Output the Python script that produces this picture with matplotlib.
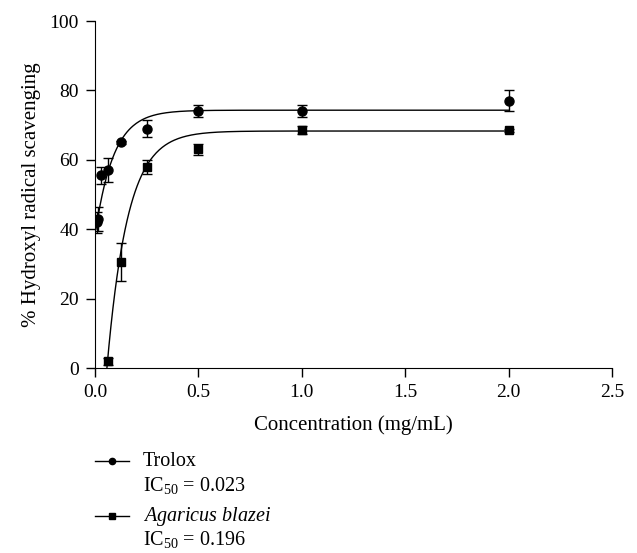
import numpy as np
import matplotlib
matplotlib.use("Agg")
import matplotlib.pyplot as plt
from matplotlib.lines import Line2D

plt.rcParams['font.family'] = ['Liberation Serif', 'DejaVu Serif']
plt.rcParams['mathtext.fontset'] = 'custom'
plt.rcParams['mathtext.rm'] = 'Liberation Serif'
plt.rcParams['mathtext.it'] = 'Liberation Serif:italic'

# Daten
conc_trolox = [0.0078, 0.0156, 0.03125, 0.0625, 0.125, 0.25, 0.5, 1.0, 2.0]
mean_trolox = [42, 43, 55.5, 57, 65, 69, 74, 74, 77]
err_trolox = [3, 3.5, 2.5, 3.5, 0.5, 2.5, 1.8, 1.8, 3]

conc_agaricus = [0.0625, 0.125, 0.25, 0.5, 1.0, 2.0]
mean_agaricus = [2, 30.5, 58, 63, 68.5, 68.5]
err_agaricus = [1, 5.5, 2, 1.5, 1.2, 0.5]

# Parameter der Fitkurven (exponentieller Anstieg)
fit_trolox = dict(y0=38.0, top=74.3, k=11.3, x0=0.0)
fit_agaricus = dict(y0=0.0, top=68.3, k=10.0, x0=0.058)

xticks = [0.0, 0.5, 1.0, 1.5, 2.0, 2.5]
yticks = [0, 20, 40, 60, 80, 100]

legend_names = ["Trolox", "$\\it{Agaricus\\ blazei}$"]
legend_ic50 = ["0.023", "0.196"]
legend_markers = ["o", "s"]


def curve(x, y0, top, k, x0):
    return y0 + (top - y0) * (1 - np.exp(-k * (x - x0)))


fig = plt.figure(figsize=(6.37, 5.53), dpi=100)
ax = fig.add_axes([0.149, 0.3345, 0.812, 0.6275])

xs = np.linspace(0.005, 2.0, 400)
ax.plot(xs, curve(xs, **fit_trolox), color='black', lw=1)
xs2 = np.linspace(fit_agaricus['x0'], 2.0, 400)
ax.plot(xs2, curve(xs2, **fit_agaricus), color='black', lw=1)

ax.errorbar(conc_trolox, mean_trolox, yerr=err_trolox, fmt='o', color='black',
            ms=6.5, capsize=3.5, elinewidth=1, capthick=1)
ax.errorbar(conc_agaricus, mean_agaricus, yerr=err_agaricus, fmt='s', color='black',
            ms=5.8, capsize=3.5, elinewidth=1, capthick=1)

ax.set_xlim(0, 2.5)
ax.set_ylim(0, 100)
ax.set_xticks(xticks)
ax.set_yticks(yticks)
ax.set_xticklabels([f"{t:.1f}" for t in xticks])
ax.tick_params(labelsize=14, direction='out', length=6.5, width=1, pad=5)
for s in ['top', 'right']:
    ax.spines[s].set_visible(False)
ax.set_xlabel("Concentration (mg/mL)", fontsize=15, labelpad=10)
ax.set_ylabel("% Hydroxyl radical scavenging", fontsize=15, labelpad=6)

# Legende unten, von Hand gesetzt
W, H = 637, 553
for i, (name, ic, m) in enumerate(zip(legend_names, legend_ic50, legend_markers)):
    ytop = 461 + i * 55
    fig.add_artist(Line2D([95 / W, 129 / W], [1 - ytop / H, 1 - ytop / H],
                          color='black', lw=1))
    fig.add_artist(Line2D([112 / W], [1 - ytop / H], color='black',
                          marker=m, ms=4.5, lw=0))
    fig.text(143 / W, 1 - ytop / H, name, fontsize=14.5, va='center', ha='left')
    fig.text(143 / W, 1 - (ytop + 24) / H, "IC$_{50}$ = " + ic, fontsize=14.5,
             va='center', ha='left')

plt.savefig("out.png", dpi=100)
